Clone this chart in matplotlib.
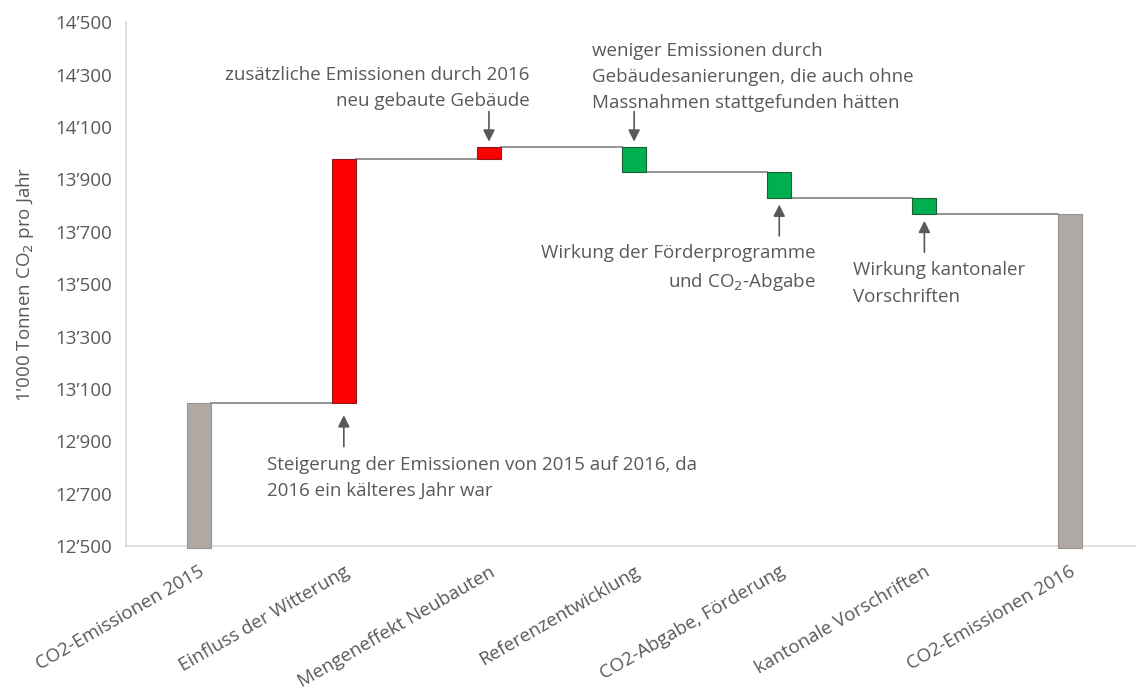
import numpy as np
import matplotlib.pyplot as plt

plt.rcParams['font.family'] = ['Open Sans', 'DejaVu Sans']

categories = ["CO2-Emissionen 2015", "Einfluss der Witterung", "Mengeneffekt Neubauten",
              "Referenzentwicklung", "CO2-Abgabe, Förderung", "kantonale Vorschriften",
              "CO2-Emissionen 2016"]
start_2015 = 13045
changes = [932, 47, -95, -100, -62]
y_ticks = [12500, 12700, 12900, 13100, 13300, 13500, 13700, 13900, 14100, 14300, 14500]

levels = start_2015 + np.cumsum([0] + changes)
end_2016 = levels[-1]

grey, red, green = "#B0A8A3", "#FF0000", "#00B050"
txt = "#595959"

fig, ax = plt.subplots(figsize=(11.36, 6.94), dpi=100)
fig.subplots_adjust(left=0.111, right=0.999, top=0.968, bottom=0.213)

w = 0.165
x = np.arange(len(categories))
ymin = 12500

# totals
ax.bar(x[0], start_2015 - ymin + 8, bottom=ymin - 8, width=w, color=grey,
       edgecolor="#9A928D", linewidth=0.8, zorder=3, clip_on=False)
ax.bar(x[-1], end_2016 - ymin + 8, bottom=ymin - 8, width=w, color=grey,
       edgecolor="#9A928D", linewidth=0.8, zorder=3, clip_on=False)

# changes
for i, d in enumerate(changes):
    base = levels[i]
    col = red if d > 0 else green
    ec = "#8B1A1A" if d > 0 else "#1E5E32"
    ax.bar(x[i + 1], d, bottom=base, width=w, color=col, edgecolor=ec,
           linewidth=0.8, zorder=3)

# connectors
for i in range(len(categories) - 1):
    lvl = levels[i] if i < len(levels) else end_2016
    ax.plot([x[i] + w / 2, x[i + 1] - w / 2], [lvl, lvl], color="#8C8C8C",
            linewidth=1.3, zorder=2)

ax.set_xlim(-0.5, 6.45)
ax.set_ylim(ymin, 14500)
ax.set_yticks(y_ticks)
ax.set_yticklabels([f"{v // 1000}\u2019{v % 1000:03d}" for v in y_ticks],
                   fontsize=13.5, color=txt)
ax.set_xticks(x)
ax.set_xticklabels(categories, rotation=30, ha="right", va="top",
                   rotation_mode="anchor", fontsize=13.5, color=txt)
ax.tick_params(axis="both", length=0, pad=10)
ax.tick_params(axis="x", pad=12)
for s in ["top", "right"]:
    ax.spines[s].set_visible(False)
for s in ["left", "bottom"]:
    ax.spines[s].set_color("#D9D9D9")
    ax.spines[s].set_linewidth(1.2)

ax.set_ylabel("1'000 Tonnen CO$_2$ pro Jahr", fontsize=13.5, color=txt, labelpad=14)

arrow = dict(arrowstyle="-|>,head_width=0.35,head_length=0.7", color="#595959",
             lw=1.2, shrinkA=0, shrinkB=0)
fs = 13.5
ls = 1.6

# Witterung (up arrow below)
ax.annotate("", xy=(x[1], levels[0] - 45), xytext=(x[1], levels[0] - 165),
            arrowprops=arrow)
ax.text(x[1] - 0.53, levels[0] - 200,
        "Steigerung der Emissionen von 2015 auf 2016, da\n2016 ein kälteres Jahr war",
        ha="left", va="top", fontsize=fs, color=txt, linespacing=ls)

# Neubauten (down arrow above)
ax.annotate("", xy=(x[2], levels[2] + 20), xytext=(x[2], levels[2] + 135),
            arrowprops=arrow)
ax.text(x[2] + 0.28, levels[2] + 140,
        "zusätzliche Emissionen durch 2016\nneu gebaute Gebäude",
        ha="right", va="bottom", fontsize=fs, color=txt, linespacing=ls)

# Referenzentwicklung
ax.annotate("", xy=(x[3], levels[2] + 20), xytext=(x[3], levels[2] + 135),
            arrowprops=arrow)
ax.text(x[3] - 0.29, levels[2] + 132,
        "weniger Emissionen durch\nGebäudesanierungen, die auch ohne\nMassnahmen stattgefunden hätten",
        ha="left", va="bottom", fontsize=fs, color=txt, linespacing=ls)

# Förderung (up arrow below)
ax.annotate("", xy=(x[4], levels[4] - 25), xytext=(x[4], levels[4] - 145),
            arrowprops=arrow)
ax.text(x[4] + 0.25, levels[4] - 175,
        "Wirkung der Förderprogramme\nund CO$_2$-Abgabe",
        ha="right", va="top", fontsize=fs, color=txt, linespacing=ls)

# kantonale Vorschriften
ax.annotate("", xy=(x[5], levels[5] - 25), xytext=(x[5], levels[5] - 145),
            arrowprops=arrow)
ax.text(x[5] - 0.49, levels[5] - 180,
        "Wirkung kantonaler\nVorschriften",
        ha="left", va="top", fontsize=fs, color=txt, linespacing=ls)

plt.savefig("out.png", dpi=100)
